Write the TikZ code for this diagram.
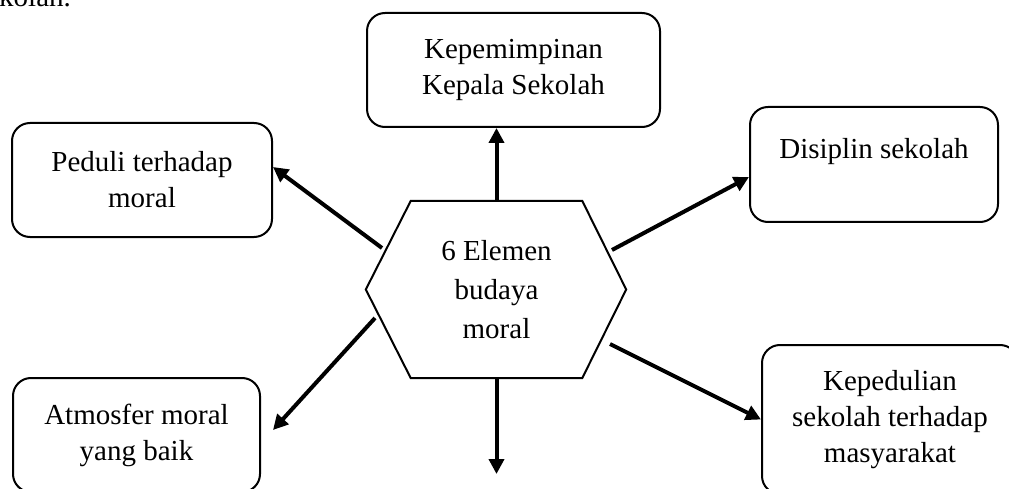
\documentclass[tikz,border=0pt]{standalone}
\usepackage{fontspec}
\setmainfont{Liberation Serif}
\usetikzlibrary{arrows.meta}

\begin{document}
\begin{tikzpicture}[
            x = 1pt,
            y = 1pt,
            > = {Triangle[length=15pt, width=15pt]},
            kotak/.style = {draw, line width=2pt, rounded corners=18pt,
                align=center, inner sep=0pt,
                font=\fontsize{29}{36}\selectfont},
            panah/.style = {->, line width=4pt}
        ]
        \useasboundingbox (0,0) rectangle (1009,488);

        \node[anchor=base west, inner sep=0pt, font=\fontsize{29}{36}\selectfont] (potongan) at (-1,481) {kolah.};

        \node[kotak, minimum width=293pt, minimum height=114pt] (kepala) at (513.5,418) {Kepemimpinan\\Kepala Sekolah};
        \node[kotak, minimum width=260pt, minimum height=114pt] (peduli) at (142,308) {Peduli terhadap\\moral};
        \node[kotak, minimum width=248pt, minimum height=115pt, text height=20pt, text depth=31pt] (disiplin) at (874,323.5) {Disiplin sekolah};
        \node[kotak, minimum width=247pt, minimum height=114pt] (atmosfer) at (136.5,53) {Atmosfer moral\\yang baik};
        \node[kotak, minimum width=256pt, minimum height=149pt] (kepedulian) at (890,68.5) {Kepedulian\\sekolah terhadap\\masyarakat};

        % hexagon in the middle
        \node[minimum width=171pt, minimum height=177pt, inner sep=0pt, align=center,
            font=\fontsize{29}{39}\selectfont] (elemen) at (496.5,198.5) {6 Elemen\\budaya\\moral};
        \draw[line width=2pt] (elemen.north west) -- (elemen.north east) -- ([xshift=44pt]elemen.east)
            -- (elemen.south east) -- (elemen.south west) -- ([xshift=-45pt]elemen.west) -- cycle;

        \coordinate (bawah) at (496.5,14);

        \draw[panah] (elemen.north) -- (elemen.north |- kepala.south);
        \draw[panah] (elemen.south) -- (bawah);
        \draw[panah] ([shift={(-114.5pt,41.5pt)}]elemen.center) -- ([yshift=13pt]peduli.east);
        \draw[panah] ([shift={(-121.5pt,-28.5pt)}]elemen.center) -- ([shift={(12pt,5pt)}]atmosfer.east);
        \draw[panah] ([shift={(115.5pt,39.5pt)}]elemen.center) -- ([yshift=-12.5pt]disiplin.west);
        \draw[panah] ([shift={(113.5pt,-54.5pt)}]elemen.center) -- (kepedulian.west);
\end{tikzpicture}
\end{document}
